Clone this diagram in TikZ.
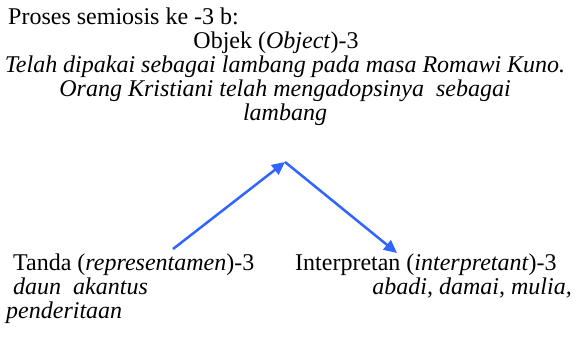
\documentclass[tikz,border=0pt]{standalone}
\usepackage{fontspec}
\setmainfont{Liberation Serif}
\usetikzlibrary{positioning, arrows.meta}
\definecolor{arrowblue}{RGB}{48,102,255}

\begin{document}
\begin{tikzpicture}[
    x=1pt, y=-1pt,
    % Styles
    txt/.style={ % Plain text lines
        inner sep=0pt,
        font=\fontsize{24}{24}\selectfont
    },
    italictxt/.style={ % Italic description lines
        txt,
        font=\fontsize{24}{24}\selectfont\itshape
    },
    arrow/.style={
        -{Triangle[length=13pt, width=12pt]},
        line width=2.5pt,
        arrowblue
    }
]
    \useasboundingbox (0,0) rectangle (577,343);

    % Heading and object
    \node[txt, anchor=base west] (title) at (8,24) {Proses semiosis ke -3 b:};
    \node[txt, anchor=base] (object) at (276,48) {Objek (\textit{Object})-3};
    \node[italictxt, anchor=base] (objdesca) at (285,72) {Telah dipakai sebagai lambang pada masa Romawi Kuno.};
    \node[italictxt, anchor=base] (objdescb) at (285,96) {Orang Kristiani telah mengadopsinya~ sebagai};
    \node[italictxt, anchor=base] (objdescc) at (285,120) {lambang};

    % Sign and interpretant
    \node[txt, anchor=base west] (tanda) at (13,270) {Tanda (\textit{representamen})-3};
    \node[italictxt, anchor=base west] (tandadesc) at (13,294) {daun \ akantus};
    \node[italictxt, anchor=base west] (tandadescb) at (6,318) {penderitaan};
    \node[txt, anchor=base west] (interp) at (295,270) {Interpretan (\textit{interpretant})-3};
    \node[italictxt, anchor=base east] (interpdesc) at (572,294) {abadi, damai, mulia,};

    % Arrow points
    \coordinate (signpt) at (173,249);
    \coordinate (apex) at (285,162);
    \coordinate (interppt) at (397,253);

    % Semiosis arrows
    \draw[arrow] (signpt) -- (apex);
    \draw[arrow] (apex) -- (interppt);
\end{tikzpicture}
\end{document}
